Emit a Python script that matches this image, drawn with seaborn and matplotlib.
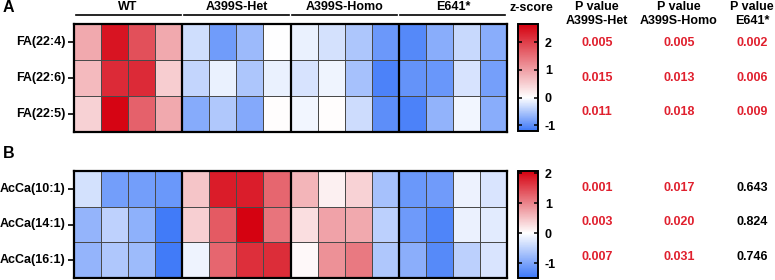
import numpy as np
import pandas as pd
import matplotlib
matplotlib.use("Agg")
import matplotlib.pyplot as plt
import seaborn as sns
from matplotlib.colors import LinearSegmentedColormap

# ---------------- data ----------------
groups = ["WT", "A399S-Het", "A399S-Homo", "E641*"]
reps_per_group = 4

rows_a = ["FA(22:4)", "FA(22:6)", "FA(22:5)"]
fa_22_4 = [0.9, 2.43, 1.82, 0.9, -0.29, -0.87, -0.6, -0.01, -0.12, -0.26, -0.5, -0.9, -1.04, -0.72, -0.34, -0.72]
fa_22_6 = [0.72, 2.2, 2.2, 0.52, -0.36, -0.12, -0.5, -0.12, -0.24, -0.1, -0.55, -1.1, -0.95, -0.92, -0.25, -0.84]
fa_22_5 = [0.47, 2.6, 1.63, 0.9, -0.74, -0.48, -0.76, 0.02, -0.08, 0.02, -0.3, -1.0, -1.1, -0.66, -0.08, -0.72]

rows_b = ["AcCa(10:1)", "AcCa(14:1)", "AcCa(16:1)"]
acca_10_1 = [-0.33, -1.08, -1.08, -1.14, 0.47, 1.84, 1.82, 1.24, 0.6, 0.12, 0.36, -0.68, -1.14, -1.1, -0.14, -0.3]
acca_14_1 = [-0.82, -0.5, -0.86, -1.47, 0.39, 1.34, 2.05, 1.13, 0.27, 0.75, 0.69, -0.52, -1.12, -1.35, -0.16, -0.22]
acca_16_1 = [-0.82, -0.62, -0.75, -1.47, -0.12, 1.24, 1.68, 1.7, 0.05, 0.89, 1.08, -0.62, -0.9, -1.3, -0.52, -0.3]

pval_headers = ["P value\nA399S-Het", "P value\nA399S-Homo", "P value\nE641*"]
pvals_a = [["0.005", "0.005", "0.002"],
           ["0.015", "0.013", "0.006"],
           ["0.011", "0.018", "0.009"]]
pvals_b = [["0.001", "0.017", "0.643"],
           ["0.003", "0.020", "0.824"],
           ["0.007", "0.031", "0.746"]]

# ---------------- style ----------------
plt.rcParams["font.family"] = ["Liberation Sans", "DejaVu Sans"]
plt.rcParams["font.weight"] = "bold"
plt.rcParams["font.size"] = 9

W, H = 775, 280
fig = plt.figure(figsize=(W / 100, H / 100), dpi=100)

def fbox(x0, y0, x1, y1):
    return [x0 / W, 1 - y1 / H, (x1 - x0) / W, (y1 - y0) / H]

BLUE = "#3D78F8"
RED = "#D5000F"
SIG = "#E0202E"

def make_cmap(vmin, vmax):
    f = -vmin / (vmax - vmin)
    return LinearSegmentedColormap.from_list("bwr_c", [(0, BLUE), (f, "#FFFFFF"), (1, RED)])

cols = [f"{g}_{i}" for g in groups for i in range(reps_per_group)]

def panel(rows, data, hm_box, cb_box, vmin, vmax, headers):
    ax = fig.add_axes(fbox(*hm_box))
    cax = fig.add_axes(fbox(*cb_box))
    df = pd.DataFrame(data, index=rows, columns=cols)
    sns.heatmap(df, ax=ax, cmap=make_cmap(vmin, vmax), vmin=vmin, vmax=vmax,
                linewidths=0.6, linecolor="#4a4a4a", cbar_ax=cax,
                xticklabels=False, yticklabels=rows)
    for k in range(1, len(groups)):
        ax.axvline(k * reps_per_group, color="black", lw=1.6)
    for s in ax.spines.values():
        s.set_visible(True)
        s.set_linewidth(1.6)
        s.set_color("black")
    ax.set_xticks([])
    ax.set_xlabel("")
    ax.set_ylabel("")
    ax.tick_params(axis="y", left=True, length=4, width=1.2, pad=2, labelsize=9)
    for t in ax.get_yticklabels():
        t.set_rotation(0)
        t.set_fontweight("bold")
    if headers:
        tr = ax.get_xaxis_transform()
        for k, g in enumerate(groups):
            x0 = k * reps_per_group
            ax.plot([x0 + 0.06, x0 + reps_per_group - 0.06], [1.083, 1.083],
                    transform=tr, color="black", lw=1.2, clip_on=False)
            ax.text(x0 + reps_per_group / 2, 1.16, g, transform=tr, ha="center",
                    va="center", fontsize=9, fontweight="bold")
    cbar = ax.collections[0].colorbar
    cbar.set_ticks([-1, 0, 1, 2])
    cbar.set_ticklabels(["-1", "0", "1", "2"])
    cbar.outline.set_linewidth(1.4)
    cbar.outline.set_edgecolor("black")
    cax.tick_params(axis="y", left=True, right=True, direction="in", length=3,
                    width=1.1, pad=5, labelsize=9, labelleft=False, labelright=True)
    for t in cax.get_yticklabels():
        t.set_fontweight("bold")
    return ax, cax

axA, caxA = panel(rows_a, [fa_22_4, fa_22_6, fa_22_5], (74, 24, 507, 132),
                  (518, 24, 538, 131), -1.2, 2.65, True)
axB, caxB = panel(rows_b, [acca_10_1, acca_14_1, acca_16_1], (74, 171, 507, 278),
                  (518, 171, 538, 278), -1.5, 2.07, False)

fig.text(531 / W, 1 - 8 / H, "z-score", ha="center", va="center", fontsize=9, fontweight="bold")
fig.text(3 / W, 1 - 8 / H, "A", ha="left", va="center", fontsize=11.5, fontweight="bold")
fig.text(3 / W, 1 - 154 / H, "B", ha="left", va="center", fontsize=11.5, fontweight="bold")

pcol_x = [597, 679, 752]
for x, h in zip(pcol_x, pval_headers):
    fig.text(x / W, 1 - 14 / H, h, ha="center", va="center", fontsize=9,
             fontweight="bold", linespacing=1.15)

def pcolor(s):
    return SIG if float(s) < 0.05 else "black"

rows_y_a = [43, 78, 112]
rows_y_b = [188, 222, 257]
for ys, table in ((rows_y_a, pvals_a), (rows_y_b, pvals_b)):
    for y, row in zip(ys, table):
        for x, s in zip(pcol_x, row):
            fig.text(x / W, 1 - y / H, s, ha="center", va="center", fontsize=9,
                     fontweight="bold", color=pcolor(s))

fig.savefig("out.png", dpi=100)
